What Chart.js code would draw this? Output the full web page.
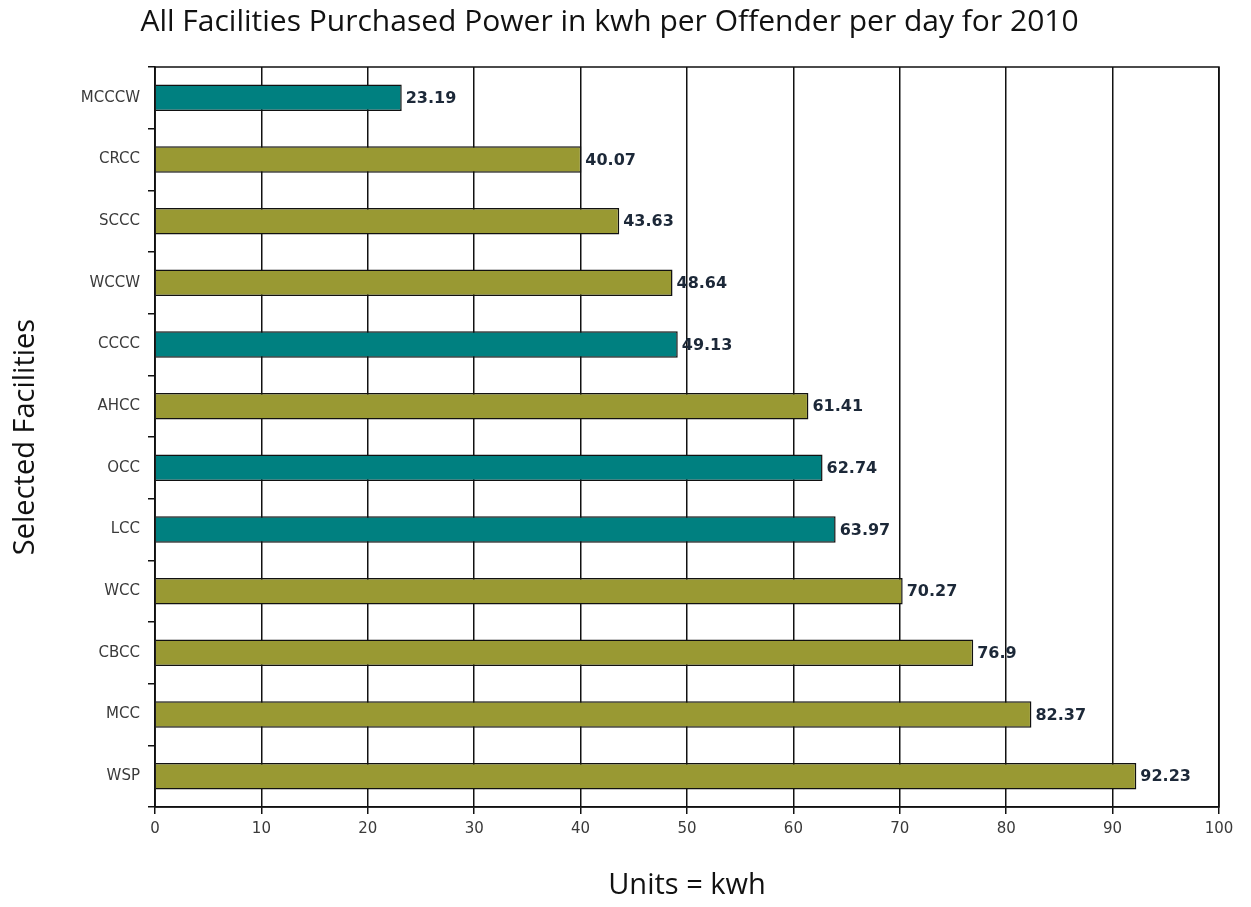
<!DOCTYPE html>
<html>
<head>
<meta charset="utf-8">
<script src="https://cdn.jsdelivr.net/npm/chart.js@4"></script>
<style>
  html, body { margin: 0; padding: 0; background: #fff; }
  #wrap { width: 1251px; height: 907px; }
</style>
</head>
<body>
<div id="wrap"><canvas id="myChart"></canvas></div>
<script>
const facilities = ['MCCCW', 'CRCC', 'SCCC', 'WCCW', 'CCCC', 'AHCC', 'OCC', 'LCC', 'WCC', 'CBCC', 'MCC', 'WSP'];
const kwhPerOffender = [23.19, 40.07, 43.63, 48.64, 49.13, 61.41, 62.74, 63.97, 70.27, 76.9, 82.37, 92.23];
const tealFacilities = ['MCCCW', 'CCCC', 'OCC', 'LCC'];
const xTicks = [0, 10, 20, 30, 40, 50, 60, 70, 80, 90, 100];

const ctx = document.getElementById('myChart');

// box round the plot area + value labels at the bar ends
const extras = {
  id: 'extras',
  afterDatasetsDraw(chart) {
    const c = chart.ctx;
    const a = chart.chartArea;
    c.save();
    c.strokeStyle = '#111';
    c.lineWidth = 1.5;
    c.strokeRect(a.left, a.top, a.right - a.left, a.bottom - a.top);
    c.font = 'bold 16px "DejaVu Sans"';
    c.fillStyle = '#1c2838';
    c.textBaseline = 'middle';
    chart.getDatasetMeta(0).data.forEach((bar, i) => {
      c.fillText(String(kwhPerOffender[i]), bar.x + 4, bar.y + 1);
    });
    c.restore();
  }
};

new Chart(ctx, {
  type: 'bar',
  data: {
    labels: facilities,
    datasets: [{
      data: kwhPerOffender,
      backgroundColor: facilities.map(f => tealFacilities.includes(f) ? '#008080' : '#999933'),
      borderColor: '#111',
      borderWidth: 1.5,
      barPercentage: 0.43,
      categoryPercentage: 1
    }]
  },
  options: {
    indexAxis: 'y',
    responsive: true,
    maintainAspectRatio: false,
    animation: false,
    layout: { padding: { left: 0, right: 32, top: 0, bottom: 0 } },
    plugins: {
      legend: { display: false },
      tooltip: { enabled: false },
      title: {
        display: true,
        text: 'All Facilities Purchased Power in kwh per Offender per day for 2010',
        color: '#111',
        font: { family: 'Open Sans', size: 30, weight: 'normal' },
        padding: { top: 4, bottom: 27 }
      }
    },
    scales: {
      x: {
        min: 0,
        max: 100,
        afterBuildTicks: s => { s.ticks = xTicks.map(v => ({ value: v })); },
        afterFit: s => { s.height = 100; },
        grid: { color: '#111', lineWidth: 1.5, tickLength: 7 },
        border: { color: '#111', width: 1.5 },
        ticks: { color: '#3a3a3a', font: { family: 'DejaVu Sans', size: 15 }, padding: 6 },
        title: {
          display: true,
          text: 'Units = kwh',
          color: '#111',
          font: { family: 'Open Sans', size: 29 },
          padding: { top: 0, bottom: 4 }
        }
      },
      y: {
        afterFit: s => { s.width = 155; },
        grid: { drawOnChartArea: false, offset: true, color: '#111', lineWidth: 1.5, tickLength: 7 },
        border: { color: '#111', width: 1.5 },
        ticks: { color: '#3a3a3a', font: { family: 'DejaVu Sans', size: 15 }, padding: 8 },
        title: {
          display: true,
          text: 'Selected Facilities',
          color: '#111',
          font: { family: 'Open Sans', size: 29 },
          padding: { top: 8, bottom: 0 }
        }
      }
    }
  },
  plugins: [extras]
});
</script>
</body>
</html>
